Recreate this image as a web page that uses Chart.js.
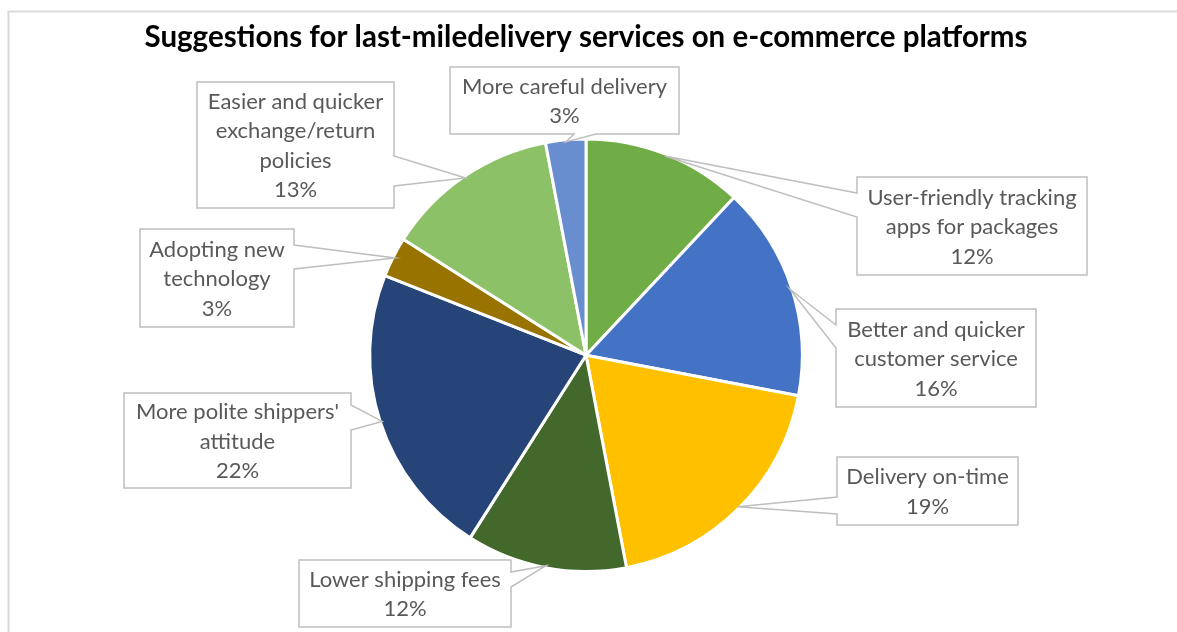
<!DOCTYPE html>
<html>
<head>
<meta charset="utf-8">
<title>Last-mile delivery suggestions</title>
<script src="https://cdn.jsdelivr.net/npm/chart.js@4"></script>
<style>
  body { margin: 0; background: #fff; }
  #wrap { width: 1177px; height: 632px; }
</style>
</head>
<body>
<div id="wrap"><canvas id="pieChart" width="1177" height="632"></canvas></div>
<script>
// Slice data (clockwise from 12 o'clock)
const categories = [
  ['User-friendly tracking', 'apps for packages'],
  ['Better and quicker', 'customer service'],
  ['Delivery on-time'],
  ['Lower shipping fees'],
  ["More polite shippers'", 'attitude'],
  ['Adopting new', 'technology'],
  ['Easier and quicker', 'exchange/return', 'policies'],
  ['More careful delivery']
];
const shares = [12, 16, 19, 12, 22, 3, 13, 3];
const sliceColors = ['#70AD47', '#4472C4', '#FFC000', '#43682B', '#264478', '#997300', '#8CC168', '#698ED0'];

// Callout boxes: [left, top, right, bottom], side the pointer leaves from, pointer base on that side
const callouts = [
  { box: [857, 177, 1087, 275], side: 'left',   base: [193, 217] },
  { box: [836, 309, 1036, 407], side: 'left',   base: [325, 348] },
  { box: [837, 457, 1018, 525], side: 'left',   base: [497, 514] },
  { box: [299, 560, 511, 627],  side: 'right',  base: [572, 587] },
  { box: [124, 393, 351, 488],  side: 'right',  base: [405, 430] },
  { box: [140, 229, 294, 327],  side: 'right',  base: [245, 269] },
  { box: [197, 82, 394, 208],   side: 'right',  base: [156, 186] },
  { box: [450, 67, 679, 134],   side: 'bottom', base: [574, 596] }
];

const frame = {
  id: 'frame',
  beforeDraw(chart) {
    const ctx = chart.ctx;
    ctx.save();
    ctx.strokeStyle = '#d9d9d9';
    ctx.lineWidth = 2;
    ctx.strokeRect(8.5, 11.5, 1200, 700);
    ctx.restore();
  }
};

function calloutPath(ctx, c, tip) {
  const [l, t, r, b] = c.box;
  const [p, q] = c.base;
  ctx.beginPath();
  if (c.side === 'left') {
    ctx.moveTo(l, t); ctx.lineTo(r, t); ctx.lineTo(r, b); ctx.lineTo(l, b);
    ctx.lineTo(l, q); ctx.lineTo(tip.x, tip.y); ctx.lineTo(l, p);
  } else if (c.side === 'right') {
    ctx.moveTo(r, b); ctx.lineTo(l, b); ctx.lineTo(l, t); ctx.lineTo(r, t);
    ctx.lineTo(r, p); ctx.lineTo(tip.x, tip.y); ctx.lineTo(r, q);
  } else {
    ctx.moveTo(l, t); ctx.lineTo(r, t); ctx.lineTo(r, b);
    ctx.lineTo(q, b); ctx.lineTo(tip.x, tip.y); ctx.lineTo(p, b); ctx.lineTo(l, b);
  }
  ctx.closePath();
}

const calloutLabels = {
  id: 'calloutLabels',
  afterDatasetsDraw(chart) {
    const ctx = chart.ctx;
    const meta = chart.getDatasetMeta(0);
    const total = shares.reduce((a, v) => a + v, 0);
    meta.data.forEach((arc, i) => {
      const c = callouts[i];
      const { x, y, startAngle, endAngle, outerRadius } = arc.getProps(['x', 'y', 'startAngle', 'endAngle', 'outerRadius'], true);
      const mid = (startAngle + endAngle) / 2;
      const tip = { x: x + Math.cos(mid) * (outerRadius - 2), y: y + Math.sin(mid) * (outerRadius - 2) };

      ctx.save();
      calloutPath(ctx, c, tip);
      ctx.fillStyle = '#ffffff';
      ctx.fill();
      ctx.strokeStyle = '#bfbfbf';
      ctx.lineWidth = 1.5;
      ctx.stroke();

      const lines = categories[i].concat([Math.round(shares[i] / total * 100) + '%']);
      const [l, t, r, b] = c.box;
      const lh = 29.5;
      const cy = (t + b) / 2 + 1;
      ctx.fillStyle = '#595959';
      ctx.font = '22px Lato, "Open Sans", sans-serif';
      ctx.textAlign = 'center';
      ctx.textBaseline = 'middle';
      lines.forEach((s, k) => {
        ctx.fillText(s, (l + r) / 2, cy + (k - (lines.length - 1) / 2) * lh);
      });
      ctx.restore();
    });
  }
};

new Chart(document.getElementById('pieChart'), {
  type: 'pie',
  data: {
    labels: categories,
    datasets: [{
      data: shares,
      backgroundColor: sliceColors,
      borderColor: '#ffffff',
      borderWidth: 3
    }]
  },
  options: {
    responsive: false,
    animation: false,
    layout: { padding: { top: 0, bottom: 59, left: 0, right: 5 } },
    plugins: {
      legend: { display: false },
      tooltip: { enabled: false },
      title: {
        display: true,
        text: 'Suggestions for last-miledelivery services on e-commerce platforms',
        color: '#000000',
        font: { family: 'Lato, "Open Sans", sans-serif', size: 29.5, weight: 'bold', lineHeight: 1.2 },
        padding: { top: 20, bottom: 82 }
      }
    }
  },
  plugins: [frame, calloutLabels]
});
</script>
</body>
</html>
